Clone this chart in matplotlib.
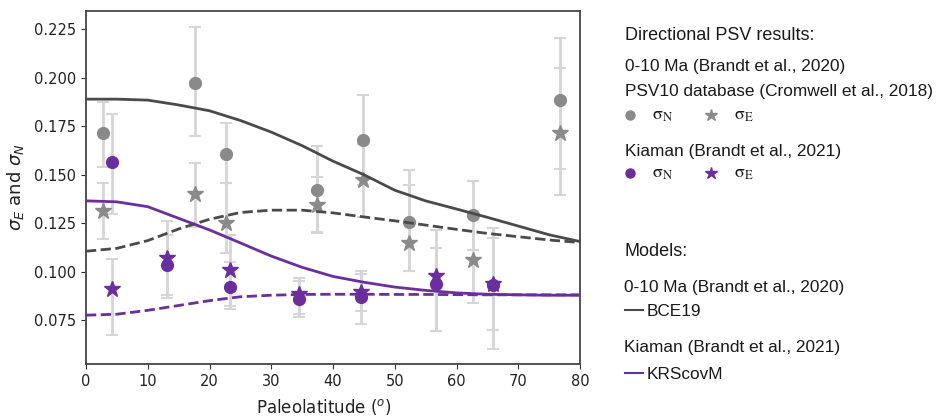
import matplotlib.pyplot as plt
from matplotlib.lines import Line2D

# 0-10 Ma, PSV10 database: bin latitudes, sigma_N / sigma_E with their bounds
psv_lat = [2.8, 17.7, 22.6, 37.4, 44.8, 52.3, 62.7, 76.8]
psv_sn = [0.1715, 0.1975, 0.1607, 0.1420, 0.1678, 0.1256, 0.1294, 0.1885]
psv_sn_lo = [0.1540, 0.1699, 0.1458, 0.1205, 0.1448, 0.1002, 0.1110, 0.1527]
psv_sn_hi = [0.1876, 0.2263, 0.1768, 0.1647, 0.1910, 0.1523, 0.1467, 0.2207]
psv_se = [0.1312, 0.1398, 0.1253, 0.1346, 0.1472, 0.1148, 0.1058, 0.1716]
psv_se_lo = [0.1170, 0.1230, 0.1096, 0.1200, 0.1282, 0.1002, 0.0838, 0.1394]
psv_se_hi = [0.1458, 0.1561, 0.1458, 0.1490, 0.1660, 0.1446, 0.1280, 0.2050]

# Kiaman
kia_lat = [4.2, 13.1, 23.3, 34.5, 44.6, 56.6, 65.9]
kia_sn = [0.1568, 0.1035, 0.0921, 0.0857, 0.0869, 0.0935, 0.0929]
kia_sn_lo = [0.1295, 0.0864, 0.0809, 0.0765, 0.0732, 0.0692, 0.0603]
kia_sn_hi = [0.1814, 0.1191, 0.1050, 0.0952, 0.1002, 0.1124, 0.1225]
kia_se = [0.0909, 0.1070, 0.1007, 0.0886, 0.0895, 0.0976, 0.0935]
kia_se_lo = [0.0675, 0.0880, 0.0824, 0.0780, 0.0797, 0.0692, 0.0697]
kia_se_hi = [0.1064, 0.1260, 0.1190, 0.0967, 0.0986, 0.1217, 0.1175]

# model predictions (solid = sigma_N, dashed = sigma_E)
model_lat = [0, 5, 10, 15, 20, 25, 30, 35, 40, 45, 50, 55, 60, 65, 70, 75, 80]
bce19_sn = [0.1890, 0.1890, 0.1885, 0.1860, 0.1830, 0.1780, 0.1720, 0.1650, 0.1570,
            0.1500, 0.1420, 0.1365, 0.1323, 0.1280, 0.1235, 0.1190, 0.1155]
bce19_se = [0.1105, 0.1120, 0.1160, 0.1220, 0.1270, 0.1305, 0.1317, 0.1317, 0.1303,
            0.1282, 0.1262, 0.1240, 0.1218, 0.1197, 0.1180, 0.1163, 0.1150]
krs_sn = [0.1365, 0.1360, 0.1335, 0.1275, 0.1215, 0.1148, 0.1080, 0.1022, 0.0975,
          0.0945, 0.0920, 0.0903, 0.0890, 0.0883, 0.0880, 0.0878, 0.0878]
krs_se = [0.0775, 0.0780, 0.0800, 0.0825, 0.0850, 0.0870, 0.0878, 0.0882, 0.0883,
          0.0883, 0.0882, 0.0882, 0.0881, 0.0880, 0.0880, 0.0880, 0.0880]

GREY = '#8a8a8a'
PURPLE = '#6a2e9e'
DARK = '#4a4a4a'
ERR = '#d6d6d6'
LEGEND_FONT = 'Liberation Sans'

W, H = 936, 416
fig = plt.figure(figsize=(W / 100, H / 100), dpi=100)
ax = fig.add_axes([86 / W, 1 - 364 / H, 494 / W, 353 / H])


def yerr(v, lo, hi):
    return [[a - b for a, b in zip(v, lo)], [c - a for a, c in zip(v, hi)]]


ekw = dict(linestyle='none', ecolor=ERR, elinewidth=2, capsize=4, capthick=1.5, zorder=2)
ax.errorbar(psv_lat, psv_sn, yerr=yerr(psv_sn, psv_sn_lo, psv_sn_hi),
            marker='o', ms=8.5, mfc=GREY, mec=GREY, **ekw)
ax.errorbar(psv_lat, psv_se, yerr=yerr(psv_se, psv_se_lo, psv_se_hi),
            marker='*', ms=12, mfc=GREY, mec=GREY, **ekw)
ax.errorbar(kia_lat, kia_sn, yerr=yerr(kia_sn, kia_sn_lo, kia_sn_hi),
            marker='o', ms=8.5, mfc=PURPLE, mec=PURPLE, **ekw)
ax.errorbar(kia_lat, kia_se, yerr=yerr(kia_se, kia_se_lo, kia_se_hi),
            marker='*', ms=12, mfc=PURPLE, mec=PURPLE, **ekw)

ax.plot(model_lat, bce19_sn, color=DARK, lw=2, zorder=3)
ax.plot(model_lat, bce19_se, color=DARK, lw=2, ls='--', zorder=3)
ax.plot(model_lat, krs_sn, color=PURPLE, lw=2, zorder=3)
ax.plot(model_lat, krs_se, color=PURPLE, lw=2, ls='--', zorder=3)

ax.set_xlim(0, 80)
ax.set_ylim(0.0523, 0.2345)
ax.set_xticks(range(0, 81, 10))
ax.set_yticks([0.075, 0.100, 0.125, 0.150, 0.175, 0.200, 0.225])
ax.tick_params(labelsize=10.5, color='#333333', labelcolor='#222222')
for s in ax.spines.values():
    s.set_color('#444444')
    s.set_linewidth(1.3)

ax.set_xlabel('Paleolatitude ($^o$)', fontsize=12, color='#222222')
ax.xaxis.set_label_coords(0.481, -0.093)
ax.set_ylabel(r'$\sigma_E$ and $\sigma_N$', fontsize=13, color='#222222')
ax.yaxis.set_label_coords(-0.121, 0.5)


# legend panel on the right, placed in pixel units
def fx(x):
    return x / W


def fy(y):
    return 1 - y / H


def label(x, y, s, size=12.4):
    fig.text(fx(x), fy(y), s, fontsize=size, family=LEGEND_FONT,
             color='#1a1a1a', va='baseline', ha='left')


def sigma(x, y, sub):
    fig.text(fx(x), fy(y), r'$\mathrm{\sigma_%s}$' % sub, fontsize=13,
             math_fontfamily='stix', color='#1a1a1a', va='baseline', ha='left')


def marker(x, y, m, c, ms):
    fig.add_artist(Line2D([fx(x)], [fy(y)], marker=m, ms=ms, color=c,
                          linestyle='none', transform=fig.transFigure))


label(625, 39.5, 'Directional PSV results:', 13)
label(625, 71, '0-10 Ma (Brandt et al., 2020)')
label(625, 96, 'PSV10 database (Cromwell et al., 2018)')
marker(629.5, 115, 'o', GREY, 6.5)
sigma(652, 120, 'N')
marker(711, 115, '*', GREY, 9)
sigma(734, 120, 'E')

label(625, 156, 'Kiaman (Brandt et al., 2021)')
marker(629.5, 173.3, 'o', PURPLE, 6.5)
sigma(652, 178, 'N')
marker(711, 173.3, '*', PURPLE, 9)
sigma(734, 178, 'E')

label(624, 256, 'Models:', 13)
label(624, 291.7, '0-10 Ma (Brandt et al., 2020)')
fig.add_artist(Line2D([fx(625), fx(643)], [fy(310), fy(310)], color=DARK, lw=1.5,
                      transform=fig.transFigure))
label(646.5, 316, 'BCE19')
label(624, 352.3, 'Kiaman (Brandt et al., 2021)')
fig.add_artist(Line2D([fx(625), fx(643)], [fy(373.3), fy(373.3)], color=PURPLE, lw=1.5,
                      transform=fig.transFigure))
label(646.5, 379.3, 'KRScovM')

fig.savefig('out.png', dpi=100)
plt.close(fig)
